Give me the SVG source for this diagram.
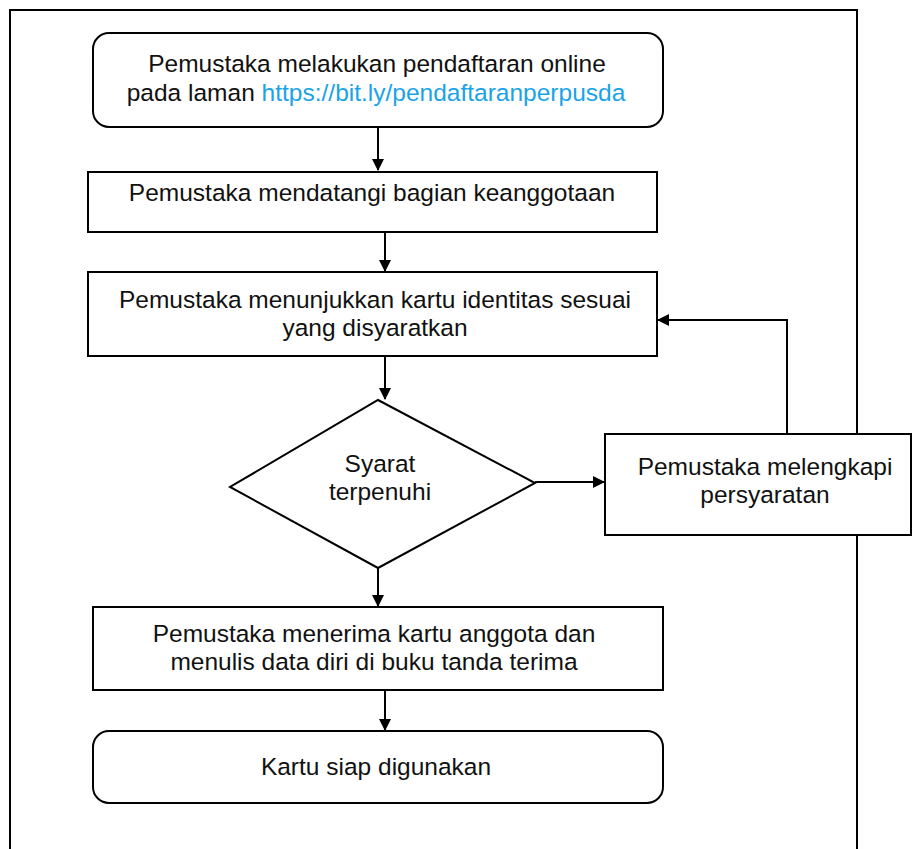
<svg xmlns="http://www.w3.org/2000/svg" width="912" height="849" viewBox="0 0 912 849">
<defs>
<marker id="ah" markerWidth="12" markerHeight="12" refX="11" refY="6" orient="auto" markerUnits="userSpaceOnUse" viewBox="0 0 12 12">
<path d="M0,0 L12,6 L0,12 z" fill="#000"/>
</marker>
<style>
.n{fill:#fff;stroke:#000;stroke-width:2}
.t{font-family:"Liberation Sans",Arial,sans-serif;font-size:24.5px;fill:#111;text-anchor:middle}
.c{fill:none;stroke:#000;stroke-width:2;marker-end:url(#ah)}
</style>
</defs>
<rect width="912" height="849" fill="#fff"/>
<rect x="10" y="10" width="847" height="860" fill="none" stroke="#000" stroke-width="2"/>
<g id="connectors">
<line class="c" x1="378" y1="127" x2="378" y2="170"/>
<line class="c" x1="385" y1="232" x2="385" y2="271"/>
<line class="c" x1="385" y1="356" x2="385" y2="399"/>
<line class="c" x1="535" y1="482" x2="604" y2="482"/>
<polyline class="c" points="787,434 787,320 658,320"/>
<line class="c" x1="378" y1="568" x2="378" y2="606"/>
<line class="c" x1="385" y1="690" x2="385" y2="730"/>
</g>
<g id="n1">
<rect class="n" x="93" y="33" width="570" height="94" rx="16"/>
<text class="t" x="377" y="72">Pemustaka melakukan pendaftaran online</text>
<text class="t" x="376" y="101">pada laman <tspan fill="#1AA3E8">https://bit.ly/pendaftaranperpusda</tspan></text>
</g>
<g id="n2">
<rect class="n" x="88" y="172" width="569" height="60"/>
<text class="t" x="372" y="201">Pemustaka mendatangi bagian keanggotaan</text>
</g>
<g id="n3">
<rect class="n" x="88" y="272" width="569" height="84"/>
<text class="t" x="375" y="308">Pemustaka menunjukkan kartu identitas sesuai</text>
<text class="t" x="375" y="336">yang disyaratkan</text>
</g>
<g id="n4">
<polygon class="n" points="378,400 535,483 378,568 230,487"/>
<text class="t" x="380" y="472">Syarat</text>
<text class="t" x="380" y="500">terpenuhi</text>
</g>
<g id="n5">
<rect class="n" x="605" y="434" width="306" height="101"/>
<text class="t" x="765" y="475">Pemustaka melengkapi</text>
<text class="t" x="765" y="503">persyaratan</text>
</g>
<g id="n6">
<rect class="n" x="93" y="607" width="570" height="83"/>
<text class="t" x="374" y="642">Pemustaka menerima kartu anggota dan</text>
<text class="t" x="374" y="670">menulis data diri di buku tanda terima</text>
</g>
<g id="n7">
<rect class="n" x="93" y="731" width="570" height="72" rx="16"/>
<text class="t" x="376" y="775">Kartu siap digunakan</text>
</g>
</svg>
